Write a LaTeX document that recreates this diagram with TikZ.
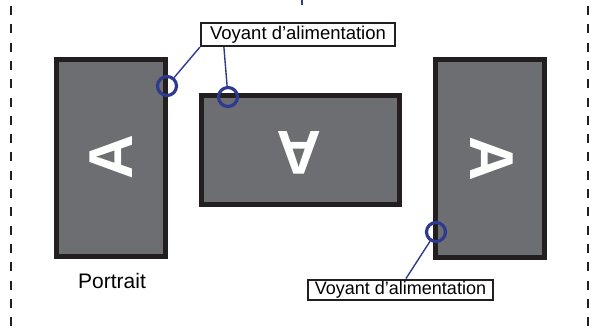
\documentclass[tikz,border=0pt]{standalone}
\usepackage{fontspec}
\setmainfont{Liberation Sans}
\definecolor{scrgray}{HTML}{6D6E71}
\definecolor{scrblack}{HTML}{231F20}
\definecolor{ledblue}{HTML}{2E3A8F}
\begin{document}
\begin{tikzpicture}[x=1pt,y=-1pt,
  screen/.style={draw=scrblack,fill=scrgray,line width=5pt,inner sep=0pt,outer sep=0pt},
  bigA/.style={text=white,inner sep=0pt,font=\fontsize{62}{62}\selectfont\bfseries},
  led/.style={circle,draw=ledblue,line width=3.2pt,minimum size=19pt,inner sep=0pt},
  labelbox/.style={draw=scrblack,line width=2.2pt,fill=white,inner sep=0pt},
  conn/.style={draw=ledblue,line width=1.4pt},
  border/.style={draw=scrblack,line width=2.8pt,dash pattern=on 9pt off 9.3pt}]
\useasboundingbox (0,0) rectangle (596,335);
% dashed frame
\coordinate (bl1) at (11,6);
\coordinate (bl2) at (11,335);
\coordinate (br1) at (588,6);
\coordinate (br2) at (588,335);
\draw[border] (bl1) -- (bl2);
\draw[border] (br1) -- (br2);
% small blue mark at top
\coordinate (m1) at (302,0);
\coordinate (m2) at (302,4.5);
\draw[draw=ledblue,line width=2pt] (m1) -- (m2);
% screens
\node[screen,minimum width=109pt,minimum height=197pt] (p) at (111,157.5) {};
\node[bigA,rotate=90] (pA) at (p.center) {A};
\node[screen,minimum width=198pt,minimum height=109pt] (l) at (300.5,150) {};
\node[bigA,rotate=180] (lA) at (299,153) {A};
\node[screen,minimum width=109pt,minimum height=198pt] (r) at (490,158.5) {};
\node[bigA,rotate=-90] (rA) at (492,159) {A};
% power LEDs
\node[led] (c1) at (167,86) {};
\node[led] (c2) at (228,97) {};
\node[led] (c3) at (436,232) {};
% labels
\node[labelbox,minimum width=194pt,minimum height=23pt,font=\fontsize{18.5}{18.5}\selectfont] (lab1) at (298,34.5) {Voyant d’alimentation};
\node[labelbox,minimum width=185pt,minimum height=20.5pt,font=\fontsize{18}{18}\selectfont] (lab2) at (400.5,290) {Voyant d’alimentation};
\node[inner sep=0pt,font=\fontsize{21}{21}\selectfont] (port) at (112,281) {Portrait};
% connectors
\draw[conn] (lab1.south west) -- (c1);
\draw[conn] ([xshift=24pt]lab1.south west) -- (c2);
\draw[conn] ([xshift=99pt]lab2.north west) -- (c3);
\end{tikzpicture}
\end{document}
